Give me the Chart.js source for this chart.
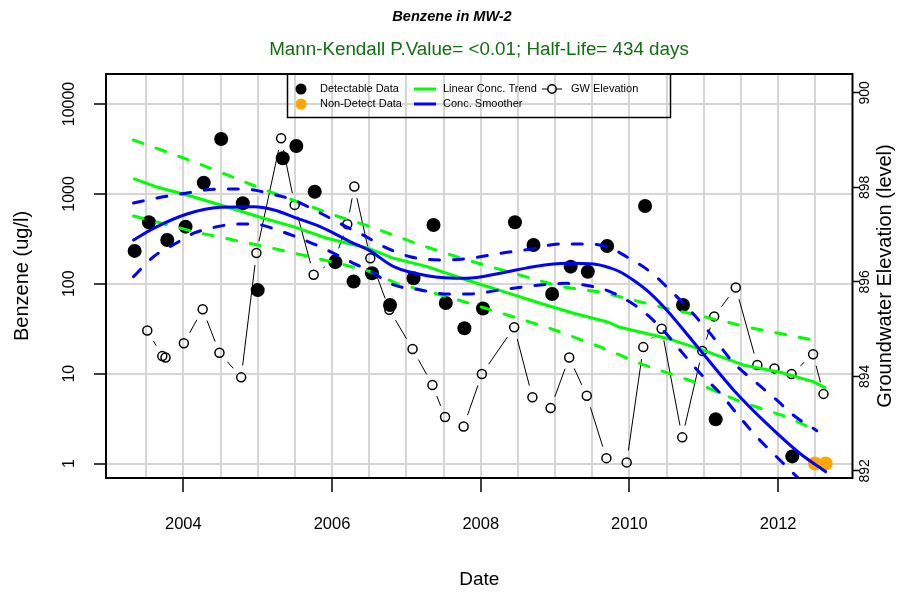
<!DOCTYPE html>
<html><head><meta charset="utf-8">
<script src="https://cdn.jsdelivr.net/npm/chart.js@4.4.1/dist/chart.umd.min.js"></script>
<style>html,body{margin:0;padding:0;background:#fff;}canvas{display:block;}</style>
</head><body>
<canvas id="c" width="899" height="596"></canvas>
<script>
const FONT = '"Liberation Sans", Arial, Helvetica, sans-serif';

const titleText = 'Benzene in MW-2';
const subtitleText = 'Mann-Kendall P.Value= <0.01; Half-Life= 434 days';
const xAxisTitle = 'Date';
const yAxisTitle = 'Benzene (ug/l)';
const y2AxisTitle = 'Groundwater Elevation (level)';
const legendLabels = ['Detectable Data', 'Non-Detect Data', 'Linear Conc. Trend', 'Conc. Smoother', 'GW Elevation'];

const xGridValues = [2003.5, 2004, 2004.5, 2005, 2005.5, 2006, 2006.5, 2007, 2007.5, 2008, 2008.5, 2009, 2009.5, 2010, 2010.5, 2011, 2011.5, 2012, 2012.5];
const xLabelYears = [2004, 2006, 2008, 2010, 2012];
const yTickValues = [1, 10, 100, 1000, 10000];
const yTickLabels = ['1', '10', '100', '1000', '10000'];
const y2TickValues = [892, 894, 896, 898, 900];
const y2TickLabels = ['892', '894', '896', '898', '900'];

// Detectable concentrations (ug/l)
const detectDates = [2003.345, 2003.537, 2003.784, 2004.03, 2004.275, 2004.509, 2004.80, 2005.0, 2005.337, 2005.52, 2005.767, 2006.045, 2006.29, 2006.537, 2006.78, 2007.096, 2007.365, 2007.53, 2007.78, 2008.03, 2008.46, 2008.71, 2008.96, 2009.21, 2009.44, 2009.70, 2010.21, 2010.72, 2011.16, 2012.19];
const detectValues = [232, 483, 307, 432, 1332, 4080, 786, 85, 2489, 3410, 1058, 174, 106, 131, 58, 115, 451, 61, 32, 53, 483, 270, 77, 155, 136, 263, 734, 58, 3.1, 1.2];

// Non-detects
const nondetectDates = [2012.495, 2012.64];
const nondetectValues = [1, 1];

// Groundwater elevation
const gwDates = [2003.515, 2003.717, 2003.76, 2004.007, 2004.26, 2004.486, 2004.778, 2004.983, 2005.315, 2005.498, 2005.753, 2006.035, 2006.205, 2006.30, 2006.515, 2006.77, 2007.083, 2007.35, 2007.52, 2007.77, 2008.015, 2008.45, 2008.695, 2008.94, 2009.19, 2009.426, 2009.69, 2009.963, 2010.186, 2010.433, 2010.71, 2010.98, 2011.14, 2011.43, 2011.72, 2011.95, 2012.18, 2012.47, 2012.61];
const gwLevels = [894.97, 894.43, 894.40, 894.70, 895.42, 894.50, 893.98, 896.61, 899.04, 897.63, 896.15, 896.47, 897.22, 898.02, 896.50, 895.41, 894.58, 893.82, 893.14, 892.94, 894.05, 895.04, 893.56, 893.33, 894.40, 893.59, 892.27, 892.18, 894.62, 895.01, 892.71, 894.54, 895.27, 895.88, 894.24, 894.17, 894.05, 894.47, 893.63];

// Linear concentration trend and its bands
const trendDates = [2003.34, 2003.63, 2004.05, 2004.5, 2005.08, 2005.48, 2005.93, 2006.49, 2006.83, 2007.28, 2007.81, 2008.31, 2008.80, 2009.25, 2009.72, 2009.87, 2010.5, 2010.98, 2011.53, 2012.04, 2012.47, 2012.63];
const trendValues = [1466, 1202, 973, 753, 536, 432, 321, 248, 192, 155, 110, 81.7, 60.7, 47.0, 37.3, 32.8, 24.8, 18.4, 12.5, 10.3, 8.15, 6.98];
const trendUpperDates = [2003.33, 2004.14, 2005.10, 2006.09, 2006.52, 2007.19, 2007.81, 2008.44, 2009.07, 2009.61, 2010.41, 2010.90, 2011.66, 2012.47];
const trendUpperValues = [3978, 2281, 1105, 558, 432, 270, 184, 131, 92.8, 81, 55.6, 45.0, 32.0, 23.7];
const trendLowerDates = [2003.33, 2004.14, 2005.10, 2006.09, 2006.52, 2006.87, 2007.55, 2008.17, 2008.93, 2009.61, 2010.19, 2010.86, 2011.49, 2012.11, 2012.52];
const trendLowerValues = [568, 380, 259, 169, 136, 101, 71.9, 50.2, 32.0, 19.8, 12.5, 8.15, 4.88, 3.32, 2.32];

// Concentration smoother and its bands
const smoothDates = [2003.33, 2003.60, 2004.05, 2004.5, 2004.95, 2005.22, 2005.53, 2005.84, 2006.29, 2006.49, 2006.83, 2007.28, 2007.81, 2008.26, 2008.71, 2009.16, 2009.52, 2009.74, 2009.87, 2010.05, 2010.28, 2010.5, 2010.95, 2011.40, 2011.84, 2012.29, 2012.64];
const smoothValues = [307, 414, 598, 710, 720, 662, 535, 432, 282, 238, 155, 123, 115, 131, 155, 169, 166, 150, 136, 110, 78.4, 51.1, 18.3, 6.59, 2.81, 1.30, 0.81];
const smoothUpperDates = [2003.33, 2003.65, 2004.05, 2004.30, 2004.63, 2004.95, 2005.13, 2005.48, 2005.84, 2006.20, 2006.49, 2006.65, 2007.05, 2007.5, 2007.86, 2008.26, 2008.66, 2009.07, 2009.43, 2009.70, 2009.96, 2010.28, 2010.5, 2010.81, 2011.08, 2011.40, 2011.71, 2011.98, 2012.20, 2012.52];
const smoothUpperValues = [792, 900, 1023, 1105, 1134, 1105, 1023, 855, 613, 428, 323, 270, 200, 184, 192, 218, 242, 277, 277, 259, 200, 136, 92.8, 51.1, 28.4, 13.2, 7.88, 5.10, 3.47, 2.32];
const smoothLowerDates = [2003.33, 2003.60, 2003.90, 2004.14, 2004.46, 2004.72, 2005.04, 2005.26, 2005.57, 2005.93, 2006.29, 2006.49, 2006.83, 2007.19, 2007.55, 2007.86, 2008.26, 2008.80, 2009.16, 2009.51, 2009.74, 2010.10, 2010.41, 2010.68, 2010.95, 2011.22, 2011.44, 2011.71, 2012.02, 2012.40];
const smoothLowerValues = [120, 200, 282, 365, 432, 463, 451, 397, 321, 238, 169, 142, 97.0, 85.3, 77.0, 77.0, 85.3, 97.0, 101, 92.8, 81.7, 55.6, 33.3, 18.3, 10.1, 6.05, 3.63, 1.99, 1.10, 0.54];

const pair = (xs, ys) => xs.map((x, i) => ({x, y: ys[i]}));

const GREEN = '#00ff00', BLUE = '#0000ff', ORANGE = '#ffa500', GRID = '#d6d6d6';

function gapDash(ctx) {
  const L = Math.hypot(ctx.p1.x - ctx.p0.x, ctx.p1.y - ctx.p0.y);
  const g = 12;
  if (!isFinite(L) || L <= 2 * g) return [0, (isFinite(L) ? L : 0) + 1000];
  return [0, g, L - 2 * g, g + 1000];
}

const lineBase = {pointRadius: 0, borderWidth: 3, clip: 0, tension: 0, fill: false,
  borderCapStyle: 'round', borderJoinStyle: 'round', yAxisID: 'y'};

function vtext(ctx, text, x, y) {
  ctx.save(); ctx.translate(x, y); ctx.rotate(-Math.PI / 2); ctx.fillText(text, 0, 0); ctx.restore();
}

const decor = {
  id: 'decor',
  afterDraw(chart) {
    const {ctx, chartArea: a, scales} = chart;
    ctx.save();
    ctx.strokeStyle = '#000'; ctx.lineWidth = 2;
    ctx.strokeRect(a.left, a.top, a.right - a.left, a.bottom - a.top);

    ctx.textAlign = 'center'; ctx.textBaseline = 'middle';
    ctx.fillStyle = '#000';
    ctx.font = `italic bold 14.6px ${FONT}`;
    ctx.fillText(titleText, 452, 17);
    ctx.fillStyle = '#10700f';
    ctx.font = `18.8px ${FONT}`;
    ctx.fillText(subtitleText, 479, 50);

    ctx.fillStyle = '#000';
    ctx.font = `16px ${FONT}`;
    yTickValues.forEach((v, i) => vtext(ctx, yTickLabels[i], 70, scales.y.getPixelForValue(v)));
    ctx.font = `14px ${FONT}`;
    y2TickValues.forEach((v, i) => vtext(ctx, y2TickLabels[i], 865, scales.y2.getPixelForValue(v)));

    ctx.font = `20px ${FONT}`;
    vtext(ctx, yAxisTitle, 22.5, (a.top + a.bottom) / 2);
    vtext(ctx, y2AxisTitle, 885, (a.top + a.bottom) / 2);
    ctx.font = `19px ${FONT}`;
    ctx.fillText(xAxisTitle, (a.left + a.right) / 2, 580);

    // legend
    ctx.lineWidth = 1.5; ctx.strokeStyle = '#000';
    ctx.strokeRect(287.5, 74, 383, 43.5);
    ctx.fillStyle = '#000';
    ctx.beginPath(); ctx.arc(301, 89, 5.5, 0, Math.PI * 2); ctx.fill();
    ctx.fillStyle = ORANGE;
    ctx.beginPath(); ctx.arc(301, 104, 5.5, 0, Math.PI * 2); ctx.fill();
    ctx.lineWidth = 3;
    ctx.strokeStyle = GREEN; ctx.beginPath(); ctx.moveTo(414, 89); ctx.lineTo(436, 89); ctx.stroke();
    ctx.strokeStyle = BLUE; ctx.beginPath(); ctx.moveTo(414, 104); ctx.lineTo(436, 104); ctx.stroke();
    ctx.strokeStyle = '#000'; ctx.lineWidth = 1.2;
    ctx.beginPath(); ctx.moveTo(542, 89); ctx.lineTo(547.5, 89); ctx.moveTo(556.5, 89); ctx.lineTo(562, 89); ctx.stroke();
    ctx.lineWidth = 1.5;
    ctx.beginPath(); ctx.arc(552, 89, 4.2, 0, Math.PI * 2); ctx.stroke();
    ctx.fillStyle = '#000';
    ctx.font = `11px ${FONT}`; ctx.textAlign = 'left';
    ctx.fillText(legendLabels[0], 320, 89);
    ctx.fillText(legendLabels[1], 320, 104);
    ctx.fillText(legendLabels[2], 443, 89);
    ctx.fillText(legendLabels[3], 443, 104);
    ctx.fillText(legendLabels[4], 571, 89);
    ctx.restore();
  }
};

new Chart(document.getElementById('c'), {
  type: 'line',
  data: {
    datasets: [
      {...lineBase, label: 'Conc. Smoother', data: pair(smoothDates, smoothValues), borderColor: BLUE, cubicInterpolationMode: 'monotone', order: 1},
      {...lineBase, label: 'Smoother upper', data: pair(smoothUpperDates, smoothUpperValues), borderColor: BLUE, borderDash: [10, 14], cubicInterpolationMode: 'monotone', order: 1},
      {...lineBase, label: 'Smoother lower', data: pair(smoothLowerDates, smoothLowerValues), borderColor: BLUE, borderDash: [10, 14], cubicInterpolationMode: 'monotone', order: 1},
      {...lineBase, label: 'Linear Conc. Trend', data: pair(trendDates, trendValues), borderColor: GREEN, order: 2},
      {...lineBase, label: 'Trend upper', data: pair(trendUpperDates, trendUpperValues), borderColor: GREEN, borderDash: [10, 14], order: 2},
      {...lineBase, label: 'Trend lower', data: pair(trendLowerDates, trendLowerValues), borderColor: GREEN, borderDash: [10, 14], order: 2},
      {label: 'Detectable Data', data: pair(detectDates, detectValues), showLine: false, yAxisID: 'y',
        pointRadius: 7, pointBackgroundColor: '#000', pointBorderWidth: 0, pointBorderColor: '#000', order: 3},
      {label: 'Non-Detect Data', data: pair(nondetectDates, nondetectValues), showLine: false, yAxisID: 'y',
        pointRadius: 7, pointBackgroundColor: ORANGE, pointBorderWidth: 0, pointBorderColor: ORANGE, order: 3},
      {label: 'GW Elevation', data: pair(gwDates, gwLevels), yAxisID: 'y2', borderColor: '#000', borderWidth: 1,
        tension: 0, fill: false, pointRadius: 4.5, pointBorderWidth: 1.5, pointBorderColor: '#000',
        pointBackgroundColor: 'rgba(0,0,0,0)', segment: {borderDash: gapDash}, order: 4}
    ]
  },
  options: {
    responsive: false, animation: false, devicePixelRatio: 1, events: [],
    layout: {padding: {top: 74, left: 0, right: 0, bottom: 0}},
    plugins: {legend: {display: false}, tooltip: {enabled: false}, title: {display: false}},
    scales: {
      x: {
        type: 'linear', position: 'bottom', min: 2002.96, max: 2013.0,
        afterBuildTicks: s => { s.ticks = xGridValues.map(v => ({value: v})); },
        afterFit: s => { s.height = 118; },
        ticks: {autoSkip: false, maxRotation: 0, minRotation: 0, padding: 23, color: '#000',
          font: {family: FONT, size: 16.5},
          callback: v => (xLabelYears.includes(v) ? String(v) : '')},
        grid: {color: GRID, lineWidth: 2, drawTicks: true, tickLength: 14, tickWidth: 1.5,
          tickColor: c => (c.tick && xLabelYears.includes(c.tick.value) ? '#000' : 'rgba(0,0,0,0)')},
        border: {display: false}
      },
      y: {
        type: 'logarithmic', position: 'left', min: 0.69, max: 21570,
        afterBuildTicks: s => { s.ticks = yTickValues.map(v => ({value: v})); },
        afterFit: s => { s.width = 106; },
        ticks: {display: false},
        grid: {color: GRID, lineWidth: 2, drawTicks: true, tickLength: 12, tickWidth: 1.5, tickColor: '#000'},
        border: {display: false}
      },
      y2: {
        type: 'linear', position: 'right', min: 891.85, max: 900.40,
        afterBuildTicks: s => { s.ticks = y2TickValues.map(v => ({value: v})); },
        afterFit: s => { s.width = 46.5; },
        ticks: {display: false},
        grid: {drawOnChartArea: false, drawTicks: true, tickLength: 7, tickWidth: 1.5, tickColor: '#000'},
        border: {display: false}
      }
    }
  },
  plugins: [decor]
});
</script>
</body></html>
